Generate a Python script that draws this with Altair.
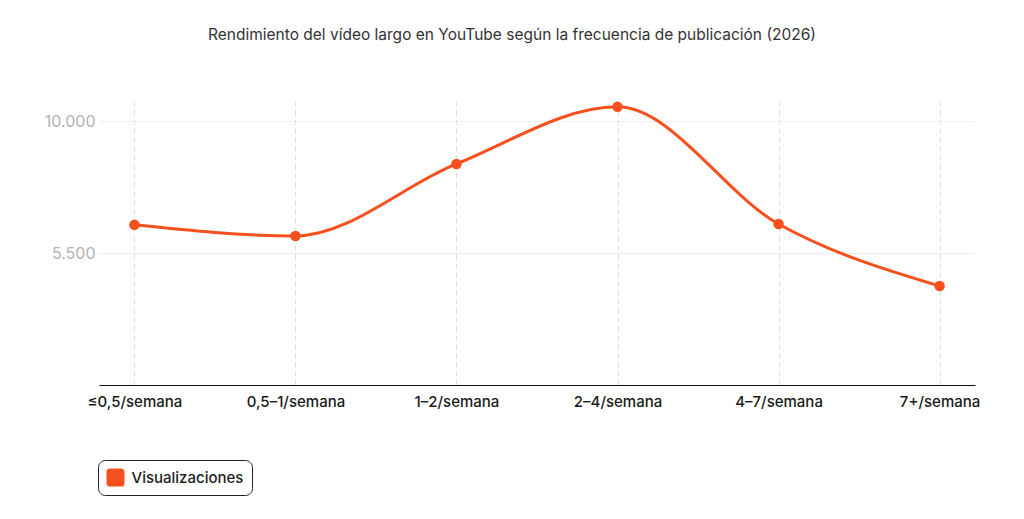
import altair as alt
import pandas as pd

categories = ["≤0,5/semana", "0,5–1/semana", "1–2/semana", "2–4/semana", "4–7/semana", "7+/semana"]
values = [6470, 6090, 8550, 10500, 6500, 4380]
series_name = "Visualizaciones"
y_ticks = [5500, 10000]

df = pd.DataFrame({"cat": categories, "val": values, "serie": [series_name] * len(categories)})

COLOR = "#F4511E"
FONT = "Inter"
rounded_sq = "M -0.6 -1 H 0.6 Q 1 -1 1 -0.6 V 0.6 Q 1 1 0.6 1 H -0.6 Q -1 1 -1 0.6 V -0.6 Q -1 -1 -0.6 -1 Z"

x = alt.X("cat:N", sort=categories, title=None,
          scale=alt.Scale(type="point", padding=0.22),
          axis=alt.Axis(labelAngle=0, labelFont=FONT, labelFontSize=15, labelFontWeight=500,
                        labelColor="#1a1a1a", labelPadding=9,
                        ticks=False, domain=True, domainColor="#111111", domainWidth=1.2,
                        grid=True, gridColor="#dddddd", gridDash=[5, 4], gridWidth=1))
y = alt.Y("val:Q", title=None,
          scale=alt.Scale(domain=[1000, 10700], nice=False, zero=False),
          axis=alt.Axis(values=y_ticks, format=",.0f", labelExpr="replace(datum.label, ',', '.')",
                        labelFont=FONT, labelFontSize=16, labelColor="#b3b3b3", labelPadding=4,
                        ticks=False, domain=False, grid=True, gridColor="#eeeeee", gridWidth=1))

color = alt.Color("serie:N", title=None,
                  scale=alt.Scale(range=[COLOR]),
                  legend=alt.Legend(orient="none", legendX=-1, legendY=359,
                                    symbolType=rounded_sq, symbolSize=324, symbolStrokeWidth=0,
                                    symbolFillColor=COLOR,
                                    labelFont=FONT, labelFontSize=15, labelFontWeight=500,
                                    labelColor="#222222", labelOffset=7,
                                    strokeColor="#222222", cornerRadius=7, padding=8.5,
                                    fillColor="white"))

line = alt.Chart(df).mark_line(interpolate="monotone", strokeWidth=3, color=COLOR).encode(x=x, y=y)
pts = alt.Chart(df).mark_point(filled=True, size=110, opacity=1).encode(x=x, y=y, color=color)

chart = alt.layer(line, pts).properties(
    width=876, height=284,
    autosize=alt.AutoSizeParams(type="none"),
    padding={"left": 91, "top": 93, "right": 41, "bottom": 118},
    background="white",
    title=alt.TitleParams("Rendimiento del vídeo largo en YouTube según la frecuencia de publicación (2026)",
                          font=FONT, fontSize=15.5, fontWeight=400, color="#333333",
                          anchor="middle", dx=-25, offset=57),
).configure_view(stroke=None)

chart.save("out.html", embed_options={"renderer": "svg", "actions": False})
